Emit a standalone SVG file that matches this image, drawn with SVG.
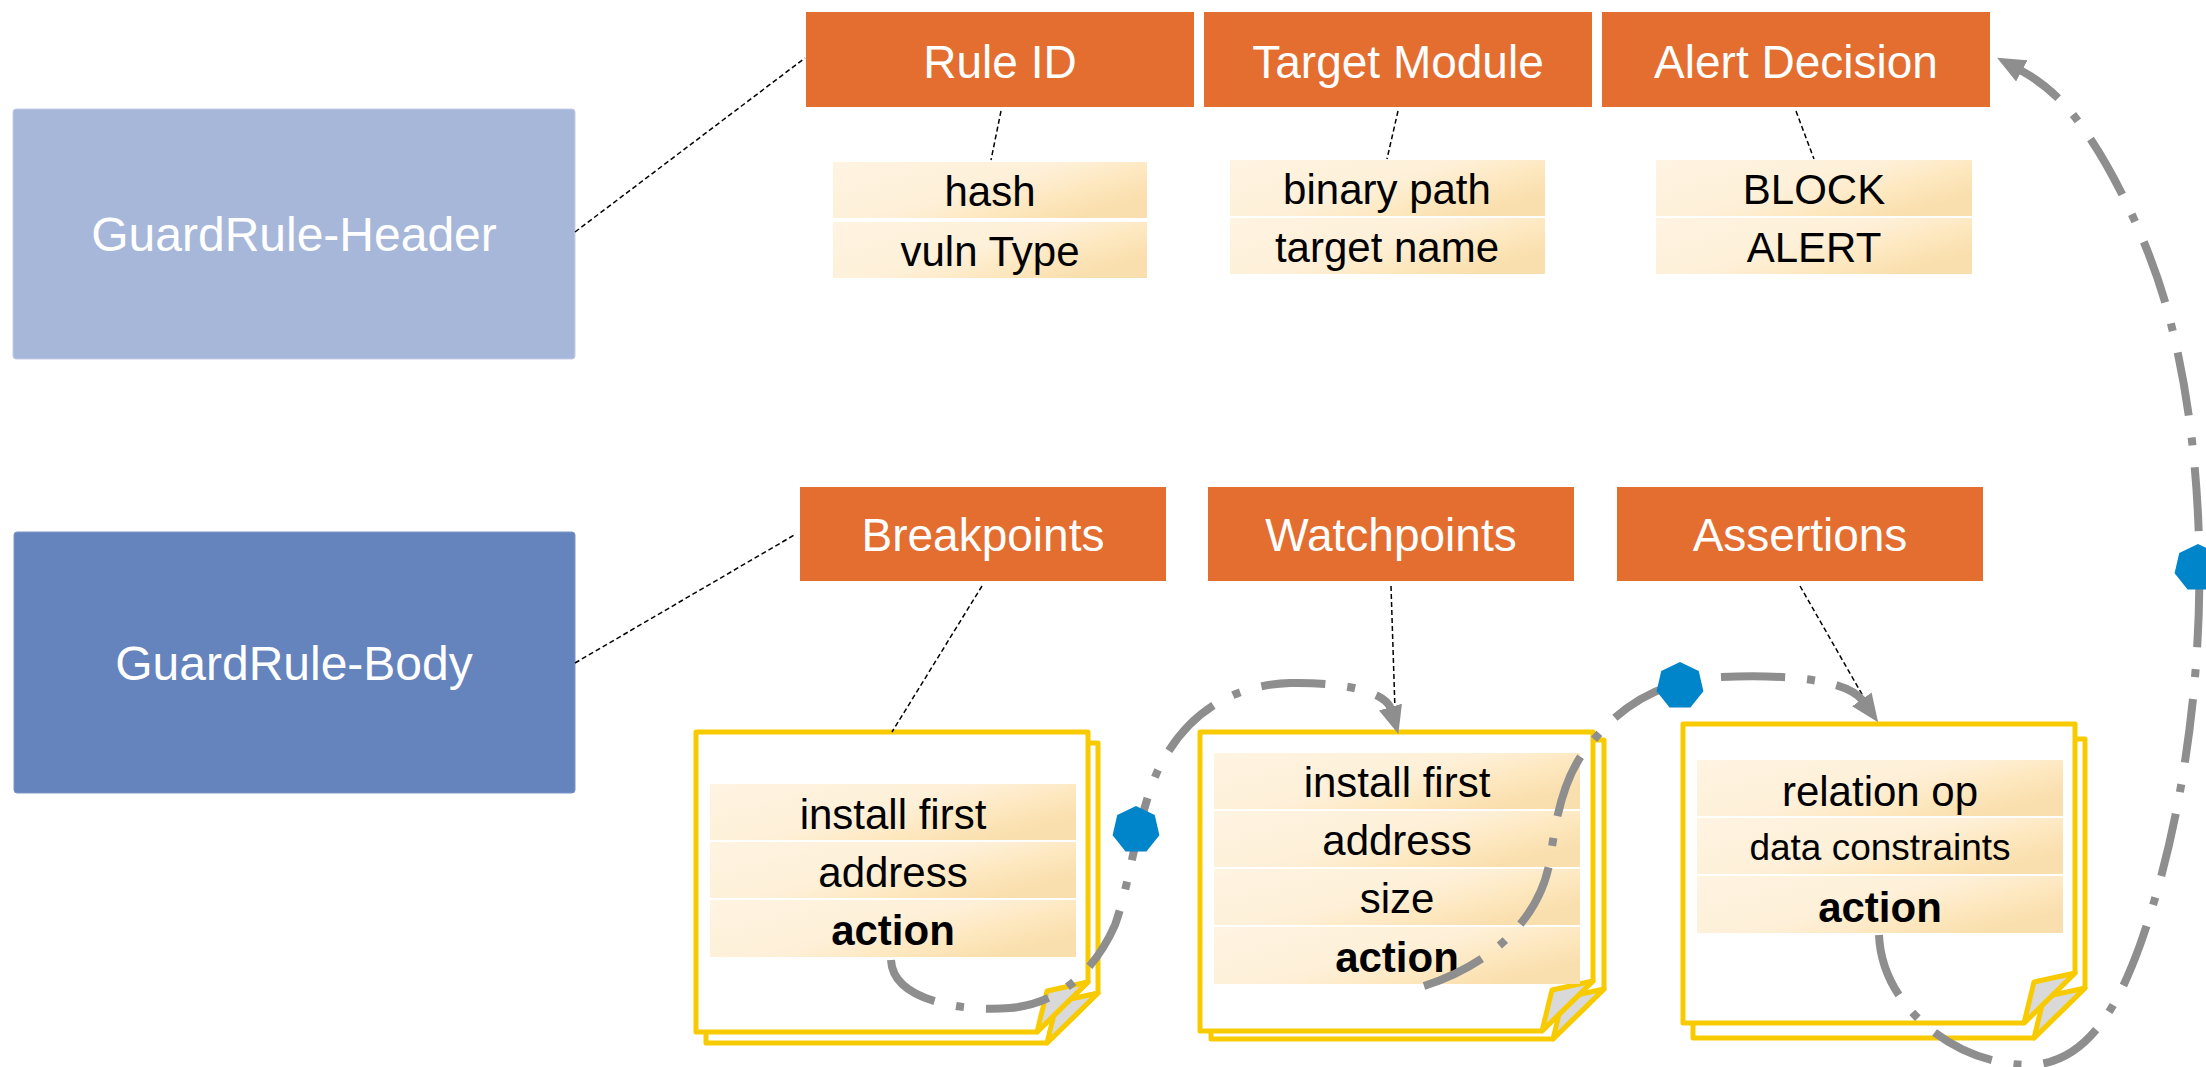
<svg xmlns="http://www.w3.org/2000/svg" width="2206" height="1067" viewBox="0 0 2206 1067">
<defs>
<linearGradient id="rowGrad" x1="0" y1="0" x2="1" y2="0.6">
<stop offset="0" stop-color="#FFF4E2"/>
<stop offset="0.55" stop-color="#FEF0D8"/>
<stop offset="0.8" stop-color="#FDE7BE"/>
<stop offset="1" stop-color="#FADFAE"/>
</linearGradient>
<marker id="arrow" markerUnits="userSpaceOnUse" markerWidth="28" markerHeight="24" viewBox="0 0 28 24" refX="2" refY="12" orient="auto">
<path d="M0,0 L28,12 L0,24 z" fill="#8E8E8E"/>
</marker>
<polygon id="hept" points="0,-24 18.76,-14.96 23.4,5.34 10.41,21.62 -10.41,21.62 -23.4,5.34 -18.76,-14.96" fill="#0084CA"/>
</defs>
<style>
.lbl{font-family:"Liberation Sans",Arial,sans-serif;fill:#fff;text-anchor:middle}
.hdr{fill:#E46D30}
.row{fill:url(#rowGrad)}
.rt{font-family:"Liberation Sans",Arial,sans-serif;font-size:42px;fill:#000;text-anchor:middle}
.small{font-size:37px}
.b{font-weight:bold}
.sheet{fill:#fff;stroke:#F8CB00;stroke-width:5;stroke-linejoin:round}
.flap{fill:#D9D9D9;stroke:#F8CB00;stroke-width:5;stroke-linejoin:round}
.dot{fill:none;stroke:#000;stroke-width:1.5;stroke-dasharray:5 3}
.flow{fill:none;stroke:#8E8E8E;stroke-width:8;stroke-dasharray:64 22 8 22;marker-end:url(#arrow)}
</style>
<rect width="2206" height="1067" fill="#fff"/>

<g id="guardrule-header">
<rect x="13" y="109" width="562" height="250" rx="3" fill="#A7B7D9" stroke="#C3CEE6" stroke-width="1"/>
<text class="lbl" x="294" y="251" font-size="48">GuardRule-Header</text>
</g>
<g id="guardrule-body">
<rect x="14" y="532" width="561" height="261" rx="3" fill="#6583BD" stroke="#7C96C9" stroke-width="1"/>
<text class="lbl" x="294" y="680" font-size="48">GuardRule-Body</text>
</g>

<g id="rule-id">
<rect class="hdr" x="806" y="12" width="388" height="95"/>
<text class="lbl" x="1000" y="78" font-size="46">Rule ID</text>
</g>
<g id="target-module">
<rect class="hdr" x="1204" y="12" width="388" height="95"/>
<text class="lbl" x="1398" y="78" font-size="46">Target Module</text>
</g>
<g id="alert-decision">
<rect class="hdr" x="1602" y="12" width="388" height="95"/>
<text class="lbl" x="1796" y="78" font-size="46">Alert Decision</text>
</g>

<g id="rule-id-fields">
<rect class="row" x="833" y="162" width="314" height="56"/>
<text class="rt" x="990" y="206">hash</text>
<rect class="row" x="833" y="222" width="314" height="56"/>
<text class="rt" x="990" y="266">vuln Type</text>
</g>
<g id="target-module-fields">
<rect class="row" x="1230" y="160" width="315" height="56"/>
<text class="rt" x="1387" y="204">binary path</text>
<rect class="row" x="1230" y="218" width="315" height="56"/>
<text class="rt" x="1387" y="262">target name</text>
</g>
<g id="alert-decision-fields">
<rect class="row" x="1656" y="160" width="316" height="56"/>
<text class="rt" x="1814" y="204">BLOCK</text>
<rect class="row" x="1656" y="218" width="316" height="56"/>
<text class="rt" x="1814" y="262">ALERT</text>
</g>

<g id="breakpoints">
<rect class="hdr" x="800" y="487" width="366" height="94"/>
<text class="lbl" x="983" y="551" font-size="46">Breakpoints</text>
</g>
<g id="watchpoints">
<rect class="hdr" x="1208" y="487" width="366" height="94"/>
<text class="lbl" x="1391" y="551" font-size="46">Watchpoints</text>
</g>
<g id="assertions">
<rect class="hdr" x="1617" y="487" width="366" height="94"/>
<text class="lbl" x="1800" y="551" font-size="46">Assertions</text>
</g>

<g id="breakpoint-doc">
<path class="sheet" d="M706 743 H1098 V993 L1047 1043 H706 Z"/>
<path class="flap" d="M1098 993 L1057 1002 L1047 1043 Z"/>
<path class="sheet" d="M696 732 H1088 V982 L1037 1032 H696 Z"/>
<path class="flap" d="M1088 982 L1047 991 L1037 1032 Z"/>
<rect class="row" x="710" y="784" width="366" height="56"/>
<text class="rt" x="893" y="829">install first</text>
<rect class="row" x="710" y="842" width="366" height="56"/>
<text class="rt" x="893" y="887">address</text>
<rect class="row" x="710" y="900" width="366" height="57"/>
<text class="rt b" x="893" y="945">action</text>
</g>

<g id="watchpoint-doc">
<path class="sheet" d="M1211 740 H1604 V989 L1553 1039 H1211 Z"/>
<path class="flap" d="M1604 989 L1563 998 L1553 1039 Z"/>
<path class="sheet" d="M1200 732 H1593 V981 L1542 1031 H1200 Z"/>
<path class="flap" d="M1593 981 L1552 990 L1542 1031 Z"/>
<rect class="row" x="1214" y="753" width="366" height="56"/>
<text class="rt" x="1397" y="797">install first</text>
<rect class="row" x="1214" y="811" width="366" height="56"/>
<text class="rt" x="1397" y="855">address</text>
<rect class="row" x="1214" y="869" width="366" height="56"/>
<text class="rt" x="1397" y="913">size</text>
<rect class="row" x="1214" y="927" width="366" height="57"/>
<text class="rt b" x="1397" y="972">action</text>
</g>

<g id="assertion-doc">
<path class="sheet" d="M1693 739 H2085 V988 L2034 1038 H1693 Z"/>
<path class="flap" d="M2085 988 L2044 997 L2034 1038 Z"/>
<path class="sheet" d="M1683 724 H2075 V973 L2024 1023 H1683 Z"/>
<path class="flap" d="M2075 973 L2034 982 L2024 1023 Z"/>
<rect class="row" x="1697" y="760" width="366" height="56"/>
<text class="rt" x="1880" y="806">relation op</text>
<rect class="row" x="1697" y="818" width="366" height="56"/>
<text class="rt small" x="1880" y="860">data constraints</text>
<rect class="row" x="1697" y="876" width="366" height="57"/>
<text class="rt b" x="1880" y="922">action</text>
</g>

<g id="connectors">
<line class="dot" x1="575" y1="232" x2="805" y2="58"/>
<line class="dot" x1="1001" y1="111" x2="991" y2="160"/>
<line class="dot" x1="1398" y1="111" x2="1387" y2="159"/>
<line class="dot" x1="1796" y1="111" x2="1814" y2="159"/>
<line class="dot" x1="575" y1="663" x2="796" y2="534"/>
<line class="dot" x1="982" y1="586" x2="892" y2="732"/>
<line class="dot" x1="1391" y1="586" x2="1395" y2="710"/>
<line class="dot" x1="1800" y1="586" x2="1867" y2="703"/>
<path class="flow" d="M891 960 C893 1000 960 1012 1010 1008 C1060 1004 1095 970 1115 925 C1131 880 1136 820 1158 770 C1185 715 1230 685 1290 683 C1345 682 1386 692 1391 709"/>
<path class="flow" d="M1424 986 C1490 965 1540 920 1550 860 C1556 820 1562 775 1592 742 C1622 705 1660 680 1720 677 C1790 674 1848 680 1863 701"/>
<path class="flow" d="M1879 935 C1882 1010 1960 1066 2030 1065 C2090 1063 2120 1000 2140 945 C2170 860 2190 760 2197 650 C2204 540 2196 420 2170 320 C2150 240 2100 140 2060 100 C2045 85 2035 78 2020 70"/>
<use href="#hept" x="1136" y="830"/>
<use href="#hept" x="1680" y="686"/>
<use href="#hept" x="2198" y="568"/>
</g>
</svg>
